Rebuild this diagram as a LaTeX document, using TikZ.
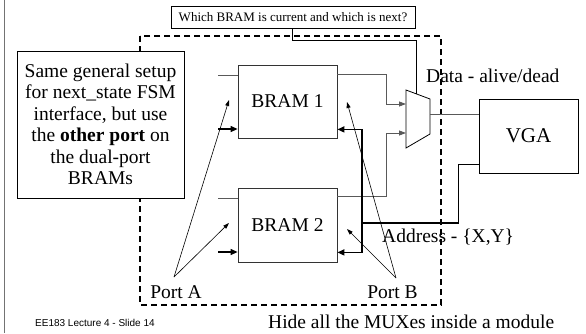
\documentclass[tikz,border=0pt]{standalone}
\usepackage{fontspec}
\setmainfont{Liberation Serif}
\setsansfont{Liberation Sans}
\usetikzlibrary{arrows.meta,positioning}

\tikzset{
  big/.style={font=\fontsize{19.5}{21.5}\selectfont},
  wire/.style={draw=black!65, line width=0.8pt},
  bus/.style={line width=1.6pt},
  busarrow/.style={-{Triangle[length=7pt,width=6pt]}},
  pointer/.style={line width=0.6pt, -{Triangle[length=6pt,width=4pt]}},
  block/.style={draw=black!80, line width=0.8pt, big, inner sep=0pt},
}

\begin{document}
\begin{tikzpicture}[x=1pt, y=-1pt]
  \useasboundingbox (0,0) rectangle (586,333);

  % slide frame
  \draw[black!55, line width=1pt] (4,0) -- (4,333);

  % module boundary
  \draw[line width=1.3pt, dash pattern=on 6pt off 4pt] (140,36) rectangle (441,305);

  % select label and its wire
  \node[draw, line width=0.6pt, font=\fontsize{13}{15}\selectfont,
        minimum width=244pt, minimum height=22pt, inner sep=0pt] (which) at (293,17)
    {Which BRAM is current and which is next?};

  % text box
  \node[draw, line width=0.8pt, fill=white, big, align=center,
        minimum width=167pt, minimum height=147pt, inner sep=0pt] (setup) at (100.5,124.5)
    {Same general setup\\for next\_state FSM\\interface, but use\\the \textbf{other port} on\\the dual-port\\BRAMs};

  % BRAMs and VGA
  \node[block, minimum width=99pt, minimum height=73pt] (bram1) at (287.5,101.5) {BRAM 1};
  \node[block, minimum width=99pt, minimum height=74pt] (bram2) at (287.5,225) {BRAM 2};
  \node[block, draw=black, font=\fontsize{21}{23}\selectfont,
        minimum width=99pt, minimum height=74pt] (vga) at (528.5,136) {VGA};

  % mux
  \coordinate (mtl) at (406,90);
  \coordinate (mtr) at (430,99);
  \coordinate (mbr) at (430,134);
  \coordinate (mbl) at (406,148);
  \draw[line width=0.8pt] (mtl) -- (mtr) -- (mbr) -- (mbl) -- cycle;
  \coordinate (msel) at (416,93.8);
  \coordinate (min1) at (406,104);
  \coordinate (min2) at (406,133);
  \coordinate (mout) at (430,114);

  \draw[line width=0.8pt] (which.south -| 292,0) -- (292,40) -| (msel);

  % port A side
  \coordinate (a1in) at (218,75);
  \coordinate (a1ad) at (218,129);
  \coordinate (a2in) at (218,198);
  \coordinate (a2ad) at (218,252);
  \draw[wire] (a1in) -- (a1in -| bram1.west);
  \draw[wire] (a2in) -- (a2in -| bram2.west);
  \draw[line width=1.2pt, busarrow] (a1ad) -- (a1ad -| bram1.west);
  \draw[line width=1.2pt, busarrow] (a2ad) -- (a2ad -| bram2.west);

  % data to mux and VGA
  \draw[wire, -{Triangle[length=7pt,width=5pt]}] ([yshift=-10pt]bram1.north east) -| ([xshift=-20pt]min1) -- (min1);
  \draw[wire, -{Triangle[length=7pt,width=5pt]}] ([yshift=-9pt]bram2.north east) -| ([xshift=-20pt]min2) -- (min2);
  \draw[wire] (mout) -- (mout -| vga.west);

  % address bus
  \coordinate (abus) at (362,223);
  \draw[bus] ([yshift=9pt]vga.south west) -- ++(-20,0) |- (abus);
  \draw[bus, busarrow] (abus) |- ([yshift=9pt]bram1.south east);
  \draw[bus, busarrow] (abus) |- ([yshift=10pt]bram2.south east);

  % labels
  \node[big, anchor=west, inner sep=0pt] (datalbl) at (426,76) {Data - alive/dead};
  \node[big, anchor=west, inner sep=0pt] (addrlbl) at (382,237) {Address - \{X,Y\}};
  \node[big, inner sep=0pt] (porta) at (176,292) {Port A};
  \node[big, inner sep=0pt] (portb) at (392.5,292) {Port B};
  \node[big, anchor=west, inner sep=0pt] (hide) at (268,322) {Hide all the MUXes inside a module};
  \node[font=\sffamily\fontsize{10}{12}\selectfont, anchor=west, inner sep=0pt] (footer) at (35,323)
    {EE183 Lecture 4 - Slide 14};

  % port pointers
  \coordinate (pa) at (174,277);
  \coordinate (pb) at (396,278);
  \coordinate (pa1) at (229,100);
  \coordinate (pa2) at (229,223);
  \coordinate (pb1) at (347,102);
  \coordinate (pb2) at (347,229);
  \draw[pointer] (pa) -- (pa1);
  \draw[pointer] (pa) -- (pa2);
  \draw[pointer] (pb) -- (pb1);
  \draw[pointer] (pb) -- (pb2);
\end{tikzpicture}
\end{document}
